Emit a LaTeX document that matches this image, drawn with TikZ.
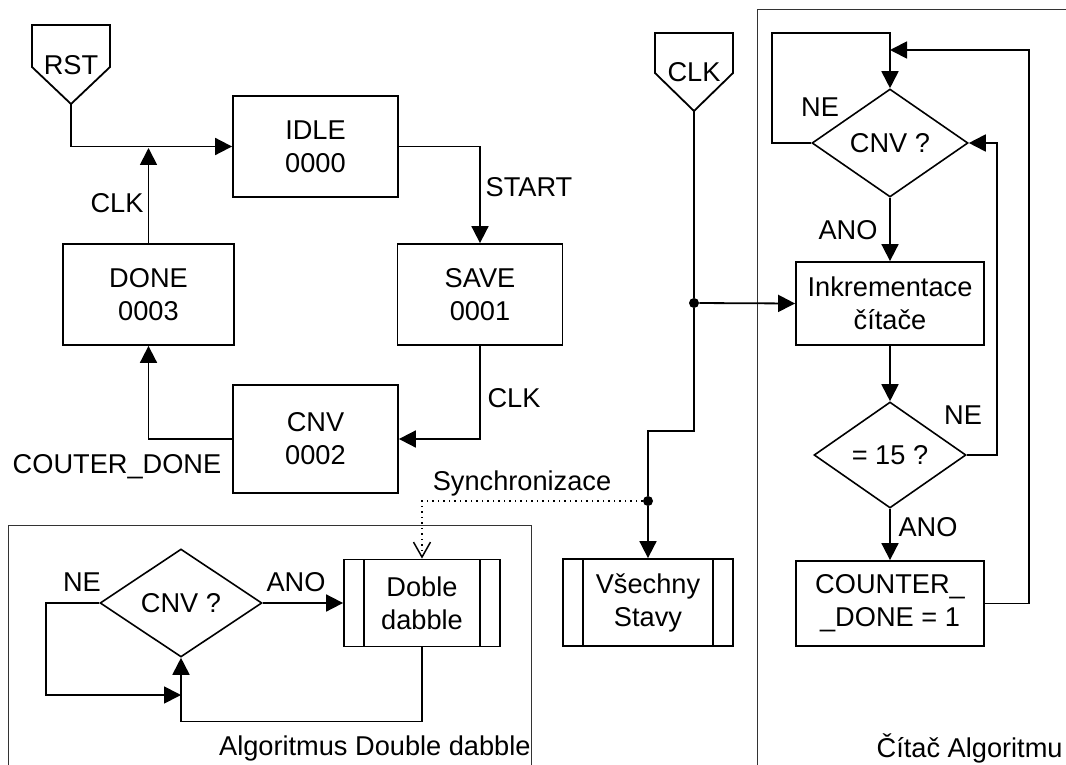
\documentclass[tikz,border=0pt]{standalone}
\usepackage{fontspec}
\setmainfont{Liberation Sans}
\usepackage{tikz}
\usetikzlibrary{arrows.meta,positioning,shapes.geometric}

\begin{document}
\begin{tikzpicture}[x=0.5pt,y=-0.5pt,font=\fontsize{13.6}{16.5}\selectfont,
 state/.style={draw, line width=.9pt, align=center, minimum width=82.5pt, minimum height=50.5pt, inner sep=2pt},
 task/.style={draw, line width=.9pt, align=center, minimum width=94pt, minimum height=42pt, inner sep=2pt},
 subproc/.style={draw, line width=.9pt, align=center, minimum width=78pt, minimum height=43.5pt, inner sep=2pt,
   path picture={\draw[line width=.9pt] ([xshift=10pt]path picture bounding box.north west) -- ([xshift=10pt]path picture bounding box.south west)
   ([xshift=-10pt]path picture bounding box.north east) -- ([xshift=-10pt]path picture bounding box.south east);}},
 decision/.style={diamond, draw, line width=.8pt, inner sep=0pt, minimum width=80pt, minimum height=54pt},
 lbl/.style={inner sep=0pt},
 dot/.style={circle, fill, inner sep=0pt, minimum size=5pt},
 frame/.style={line width=.5pt, color=black!80},
 arr/.style={-{Triangle[length=8.5pt,width=8.5pt]}, line width=.9pt},
 sync/.style={-{Straight Barb[length=7.5pt,width=8.5pt]}, dotted, line width=.75pt}]
\useasboundingbox (0,0) rectangle (1066,765);
\clip (0,0) rectangle (1066,765);
\draw[frame] (8,525) rectangle (531,800);
\draw[frame] (757,10) rectangle (1100,800);
\draw[line width=.9pt] (32,25) -- (110,25) -- (110,67) -- (71,104) -- (32,67) -- cycle;
\node[lbl] (rst) at (71,65) {RST};
\coordinate (rstTip) at (71,104);
\draw[line width=.9pt] (655,33) -- (733,33) -- (733,73) -- (694,111) -- (655,73) -- cycle;
\node[lbl] (clk) at (694,72) {CLK};
\coordinate (clkTip) at (694,111);
\node[state] (idle) at (315.5,146.5) {IDLE\\0000};
\node[state] (save) at (480,294.5) {SAVE\\0001};
\node[state, minimum height=54pt] (cnv) at (315.5,439) {CNV\\0002};
\node[state, minimum width=85.5pt] (done) at (148.5,294.5) {DONE\\0003};
\coordinate (clkJoin) at (148.5,148);
\draw[arr] (rstTip) |- (idle.west);
\draw[arr] (done.north) -- (clkJoin);
\draw[arr] (idle.east) -| (save.north);
\draw[arr] (save.south) |- (cnv.east);
\draw[arr] (cnv.west) -| (done.south);
\node[lbl] (lclk) at (117,203) {CLK};
\node[lbl] (lstart) at (529,187) {START};
\node[lbl] (lclk2) at (514,398) {CLK};
\node[lbl] (lcdone) at (117,467) {COUTER\_DONE};
\node[dot] (j1) at (694,303) {};
\node[dot] (j2) at (648,501) {};
\node[subproc, minimum width=85pt] (vse) at (648,602.5) {Všechny\\Stavy};
\node[subproc] (doble) at (422,603) {Doble\\dabble};
\node[decision, minimum width=81pt] (dec1) at (181,603) {CNV ?};
\node[decision, minimum width=78pt] (dec2) at (890,143) {CNV ?};
\node[task, minimum height=41.5pt] (ink) at (890,303.5) {Inkrementace\\čítače};
\node[decision, minimum width=76pt, minimum height=53pt] (dec3) at (890,455) {= 15 ?};
\node[task, minimum height=42.5pt] (cnt) at (890,603.5) {COUNTER\_\\\_DONE = 1};
\draw[line width=.9pt] (clkTip) -- (j1);
\draw[arr] (j1) -- (ink.west);
\draw[line width=.9pt] (j1) -- ++(0,128) -| (j2);
\draw[arr] (j2) -- (vse.north);
\draw[sync] (j2) -| (doble.north);
\node[lbl] (lsync) at (522,483) {Synchronizace};
\coordinate (loopIn) at (181,695);
\draw[arr] (dec1.east) -- (doble.west);
\draw[arr] (doble.south) -- ++(0,74) -| (dec1.south);
\draw[arr] (dec1.west) -- ++(-53,0) |- (loopIn);
\node[lbl] (lne1) at (82,582) {NE};
\node[lbl] (lano1) at (296,582) {ANO};
\coordinate (loopTop) at (890,33);
\coordinate (backIn) at (890,50);
\draw[arr] (dec2.west) -- ++(-39,0) |- (loopTop) -- (dec2.north);
\draw[arr] (dec2.south) -- (ink.north);
\draw[arr] (ink.south) -- (dec3.north);
\draw[arr] (dec3.south) -- (cnt.north);
\draw[arr] (dec3.east) -- ++(30,0) |- (dec2.east);
\draw[arr] (cnt.east) -- ++(44,0) |- (backIn);
\node[lbl] (lne2) at (820,107) {NE};
\node[lbl] (lano2) at (848,230) {ANO};
\node[lbl] (lne3) at (963,415) {NE};
\node[lbl] (lano3) at (928,527) {ANO};
\node[lbl, anchor=east] (ldd) at (531,748) {Algoritmus Double dabble};
\node[lbl, anchor=east] (lcit) at (1063,748) {Čítač Algoritmu};
\end{tikzpicture}
\end{document}
